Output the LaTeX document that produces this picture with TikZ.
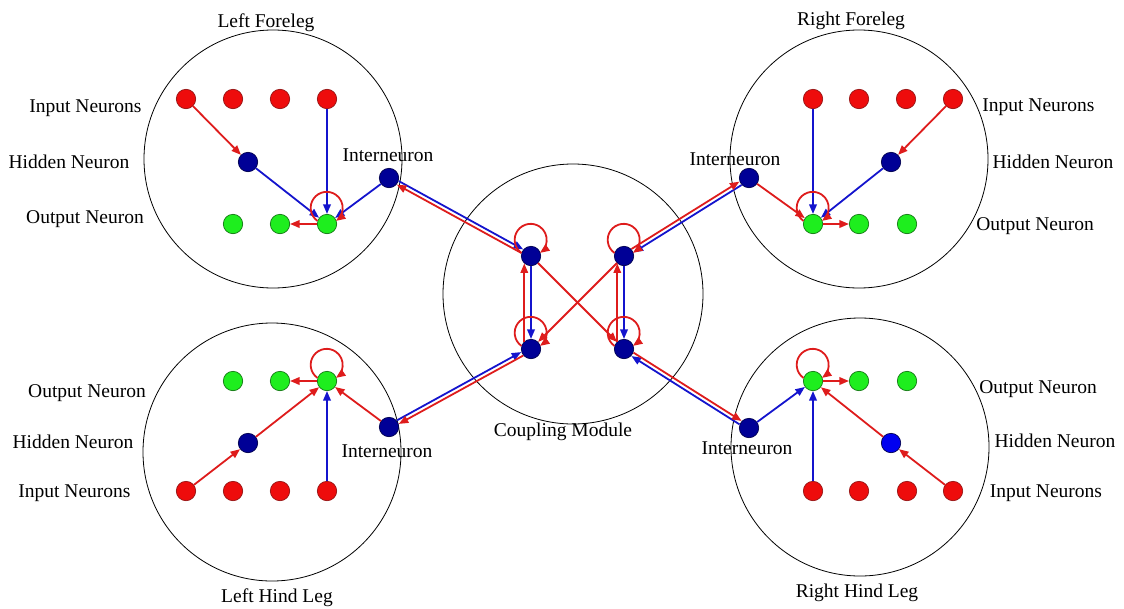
\documentclass[tikz,border=0pt]{standalone}
\usepackage{fontspec}
\setmainfont{Liberation Serif}
\usetikzlibrary{arrows.meta,calc}

\definecolor{nred}{RGB}{238,12,12}
\definecolor{nredd}{RGB}{150,20,20}
\definecolor{ngreen}{RGB}{30,238,30}
\definecolor{ngreend}{RGB}{20,120,20}
\definecolor{nnavy}{RGB}{0,0,150}
\definecolor{nnavyd}{RGB}{0,0,80}
\definecolor{nblue}{RGB}{0,0,240}
\definecolor{ered}{RGB}{222,28,28}
\definecolor{eblue}{RGB}{20,20,205}

\tikzset{
  module/.style={circle, draw=black, line width=0.8pt, minimum size=258pt, inner sep=0pt},
  neuron/.style={circle, minimum size=19.4pt, inner sep=0pt, line width=0.7pt},
  inp/.style={neuron, fill=nred, draw=nredd},
  outp/.style={neuron, fill=ngreen, draw=ngreend},
  hid/.style={neuron, fill=nnavy, draw=nnavyd},
  hidb/.style={neuron, fill=nblue, draw=nnavyd},
  lbl/.style={font=\fontsize{19.5}{23}\selectfont, anchor=base, inner sep=0pt},
  tip/.style={-{Triangle[length=9.5pt,width=7.5pt]}},
  re/.style={draw=ered, line width=1.8pt, tip},
  be/.style={draw=eblue, line width=1.8pt, tip},
}
% recurrent self-connection: a round loop above the neuron
\newcommand\selfconn[1]{\draw[re] (#1.162.4) arc[start angle=234.7, delta angle=-289.4, radius=16pt];}

\begin{document}
\begin{tikzpicture}[x=1pt, y=1pt]
\useasboundingbox (0,0) rectangle (1124,-608);

% ---- module outlines ----
\node[module] (mLF) at (273,-159) {};
\node[module] (mRF) at (859,-159) {};
\node[module] (mLH) at (272,-452) {};
\node[module] (mRH) at (860,-447) {};
\node[module, minimum size=260pt] (mC) at (573,-294) {};

% ---- module titles ----
\node[lbl] (tLF) at (266,-27) {Left Foreleg};
\node[lbl] (tRF) at (851,-25) {Right Foreleg};
\node[lbl] (tLH) at (277,-602) {Left Hind Leg};
\node[lbl] (tRH) at (857,-597) {Right Hind Leg};
\node[lbl] (tC)  at (563,-436) {Coupling Module};

% ---- left foreleg ----
\node[inp] (lfI1) at (186,-99) {};
\node[inp] (lfI2) at (233,-99) {};
\node[inp] (lfI3) at (280,-99) {};
\node[inp] (lfI4) at (327,-99) {};
\node[hid] (lfH)  at (248,-162) {};
\node[outp] (lfO1) at (233,-224) {};
\node[outp] (lfO2) at (280,-224) {};
\node[outp] (lfO3) at (327,-224) {};
\node[hid] (lfN)  at (389,-178) {};
\node[lbl] (lfLi) at (85.5,-112) {Input Neurons};
\node[lbl] (lfLh) at (69,-168) {Hidden Neuron};
\node[lbl] (lfLo) at (85,-223) {Output Neuron};
\node[lbl] (lfLn) at (388,-161) {Interneuron};

% ---- right foreleg ----
\node[inp] (rfI1) at (813,-99) {};
\node[inp] (rfI2) at (859,-99) {};
\node[inp] (rfI3) at (906,-99) {};
\node[inp] (rfI4) at (953,-99) {};
\node[hid] (rfH)  at (891,-162) {};
\node[outp] (rfO1) at (813,-224) {};
\node[outp] (rfO2) at (859,-224) {};
\node[outp] (rfO3) at (907,-224) {};
\node[hid] (rfN)  at (749,-178) {};
\node[lbl] (rfLi) at (1038.5,-111) {Input Neurons};
\node[lbl] (rfLh) at (1053,-168) {Hidden Neuron};
\node[lbl] (rfLo) at (1035,-230) {Output Neuron};
\node[lbl] (rfLn) at (735,-165) {Interneuron};

% ---- left hind leg ----
\node[outp] (lhO1) at (233,-381) {};
\node[outp] (lhO2) at (280,-381) {};
\node[outp] (lhO3) at (327,-381) {};
\node[hid] (lhH)  at (248,-443) {};
\node[inp] (lhI1) at (186,-491) {};
\node[inp] (lhI2) at (233,-491) {};
\node[inp] (lhI3) at (280,-491) {};
\node[inp] (lhI4) at (327,-491) {};
\node[hid] (lhN)  at (389,-427) {};
\node[lbl] (lhLo) at (87,-397) {Output Neuron};
\node[lbl] (lhLh) at (73,-448) {Hidden Neuron};
\node[lbl] (lhLi) at (74.5,-497.5) {Input Neurons};
\node[lbl] (lhLn) at (387,-457) {Interneuron};

% ---- right hind leg ----
\node[outp] (rhO1) at (813,-381) {};
\node[outp] (rhO2) at (859,-381) {};
\node[outp] (rhO3) at (907,-381) {};
\node[hidb] (rhH) at (891,-443) {};
\node[inp] (rhI1) at (813,-491) {};
\node[inp] (rhI2) at (859,-491) {};
\node[inp] (rhI3) at (907,-491) {};
\node[inp] (rhI4) at (953,-491) {};
\node[hid] (rhN)  at (749,-428) {};
\node[lbl] (rhLo) at (1038,-393.5) {Output Neuron};
\node[lbl] (rhLh) at (1055,-447) {Hidden Neuron};
\node[lbl] (rhLi) at (1046,-497.5) {Input Neurons};
\node[lbl] (rhLn) at (747,-454.5) {Interneuron};

% ---- coupling module ----
\node[hid] (cTL) at (531,-256) {};
\node[hid] (cTR) at (624,-256) {};
\node[hid] (cBL) at (531,-349) {};
\node[hid] (cBR) at (624,-349) {};

% ---- connections inside the legs ----
\draw[re] (lfI1) -- (lfH);
\draw[be] (lfH) -- (lfO3);
\draw[be] (lfI4) -- (lfO3);
\draw[be] (lfN) -- (lfO3);
\draw[re] (lfO3) -- (lfO2);
\selfconn{lfO3}

\draw[re] (rfI4) -- (rfH);
\draw[be] (rfH) -- (rfO1);
\draw[be] (rfI1) -- (rfO1);
\draw[re] (rfN) -- (rfO1);
\draw[re] (rfO1) -- (rfO2);
\selfconn{rfO1}

\draw[re] (lhI1) -- (lhH);
\draw[re] (lhH) -- (lhO3);
\draw[be] (lhI4) -- (lhO3);
\draw[re] (lhN) -- (lhO3);
\draw[re] (lhO3) -- (lhO2);
\selfconn{lhO3}

\draw[re] (rhI4) -- (rhH);
\draw[re] (rhH) -- (rhO1);
\draw[be] (rhI1) -- (rhO1);
\draw[be] (rhN) -- (rhO1);
\draw[re] (rhO1) -- (rhO2);
\selfconn{rhO1}

% ---- interneurons to and from the coupling module ----
\draw[be, transform canvas={shift={(0.97,1.75)}}]   (lfN) -- (cTL);
\draw[re, transform canvas={shift={(-0.97,-1.75)}}] (cTL) -- (lfN);
\draw[be, transform canvas={shift={(1.06,-1.7)}}]   (rfN) -- (cTR);
\draw[re, transform canvas={shift={(-1.06,1.7)}}]   (cTR) -- (rfN);
\draw[be, transform canvas={shift={(-0.97,1.75)}}]  (lhN) -- (cBL);
\draw[re, transform canvas={shift={(0.97,-1.75)}}]  (cBL) -- (lhN);
\draw[be, transform canvas={shift={(-1.07,-1.69)}}] (rhN) -- (cBR);
\draw[re, transform canvas={shift={(1.07,1.69)}}]   (cBR) -- (rhN);

% ---- coupling module internals ----
\draw[be] (cTL) -- (cBL);
\draw[re] (cBL.132) -- (cTL.228);
\draw[be] (cTR) -- (cBR);
\draw[re] (cBR.132) -- (cTR.228);
\draw[re] (cTL) -- (cBR);
\draw[re] (cTR) -- (cBL);
\selfconn{cTL}
\selfconn{cTR}
\selfconn{cBL}
\selfconn{cBR}
\end{tikzpicture}
\end{document}
